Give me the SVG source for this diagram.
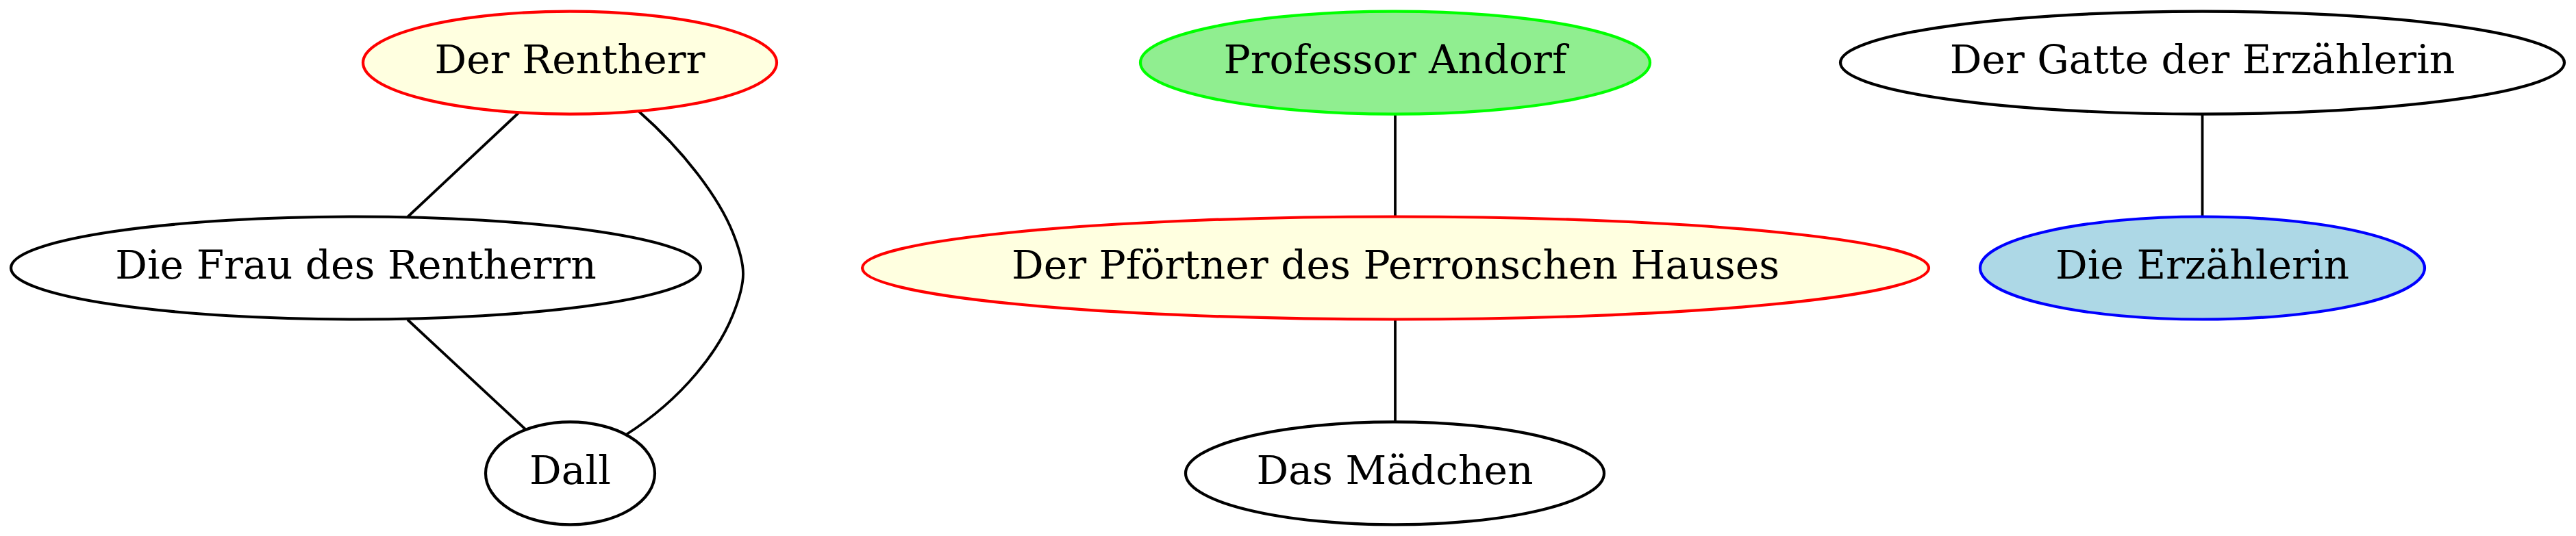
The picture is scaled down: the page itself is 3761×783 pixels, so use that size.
<svg xmlns="http://www.w3.org/2000/svg" width="3761" height="783" viewBox="0 0 3761 783">
<style>
.n ellipse{stroke-width:4.2}
.plain ellipse{fill:#ffffff;stroke:#000000}
.yellow ellipse{fill:#ffffe0;stroke:#ff0000}
.green ellipse{fill:#90ee90;stroke:#00ff00}
.blue ellipse{fill:#add8e6;stroke:#0000ff}
.n text{font-family:"DejaVu Serif","Liberation Serif",serif;font-size:58.3px;text-anchor:middle;fill:#000000}
.edges path{fill:none;stroke:#000000;stroke-width:3.8}
</style>
<rect width="3761" height="783" fill="#ffffff"/>
<g class="edges" id="edges">
<path d="M757,165 L595,317"/>
<path d="M595,467 L767,627"/>
<path d="M933,163 C1000,222 1050,290 1070,340 C1090,390 1090,410 1070,460 C1050,510 1000,580 914,635"/>
<path d="M2037,166 L2037,317"/>
<path d="M2037,467 L2037,617"/>
<path d="M3215.5,166 L3215.5,317"/>
</g>
<g id="node_der_rentherr" class="n yellow">
<ellipse cx="832" cy="91.6" rx="302" ry="75"/>
<text x="832" y="107">Der Rentherr</text>
</g>
<g id="node_die_frau" class="n plain">
<ellipse cx="519.5" cy="391.5" rx="503.5" ry="75"/>
<text x="519.5" y="407">Die Frau des Rentherrn</text>
</g>
<g id="node_dall" class="n plain">
<ellipse cx="832.5" cy="691.4" rx="123.5" ry="75"/>
<text x="832.5" y="707">Dall</text>
</g>
<g id="node_professor_andorf" class="n green">
<ellipse cx="2037" cy="91.6" rx="372" ry="75"/>
<text x="2037" y="107">Professor Andorf</text>
</g>
<g id="node_pfoertner" class="n yellow">
<ellipse cx="2037.5" cy="391.5" rx="778.5" ry="75"/>
<text x="2037.5" y="407">Der Pförtner des Perronschen Hauses</text>
</g>
<g id="node_maedchen" class="n plain">
<ellipse cx="2036.5" cy="691.4" rx="305.5" ry="75"/>
<text x="2036.5" y="707">Das Mädchen</text>
</g>
<g id="node_gatte" class="n plain">
<ellipse cx="3215.5" cy="91.6" rx="528.5" ry="75"/>
<text x="3215.5" y="107">Der Gatte der Erzählerin</text>
</g>
<g id="node_erzaehlerin" class="n blue">
<ellipse cx="3215.5" cy="391.5" rx="324.5" ry="75"/>
<text x="3215.5" y="407">Die Erzählerin</text>
</g>
</svg>
